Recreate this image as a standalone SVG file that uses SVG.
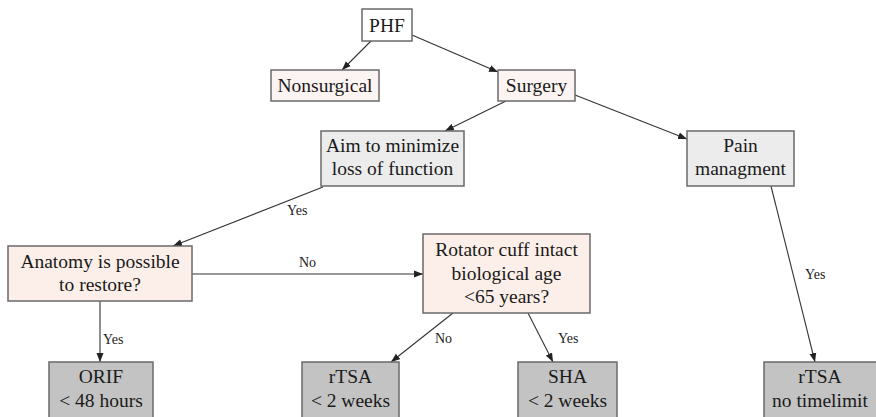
<svg xmlns="http://www.w3.org/2000/svg" width="876" height="417" viewBox="0 0 876 417">
<defs>
<style>
.n rect{stroke:#6a6a6a;stroke-width:1.5}
.n text{font-family:"Liberation Serif","Times New Roman",serif;font-size:19.5px;fill:#1a1a1a;text-anchor:middle}
.w rect{fill:#ffffff}
.p rect{fill:#fcf4f2}
.g rect{fill:#ececec}
.o rect{fill:#fcefe9}
.d rect{fill:#c3c3c3}
.e line{stroke:#333;stroke-width:1.1;marker-end:url(#ah)}
.e text{font-family:"Liberation Serif","Times New Roman",serif;font-size:14px;fill:#222}
</style>
<marker id="ah" markerWidth="9" markerHeight="8" refX="9" refY="4" orient="auto" markerUnits="userSpaceOnUse">
<path d="M0,0.5 L9,4 L0,7.5 Z" fill="#222"/>
</marker>
</defs>
<rect width="876" height="417" fill="#ffffff"/>
<g id="edges" class="e">
<line x1="371" y1="41" x2="342" y2="70"/>
<line x1="412" y1="35" x2="498" y2="72"/>
<line x1="506" y1="101" x2="445" y2="131"/>
<line x1="575" y1="95" x2="687" y2="139"/>
<line x1="323" y1="187" x2="173" y2="246"/>
<text x="287" y="215">Yes</text>
<line x1="192" y1="274" x2="423" y2="274"/>
<text x="299" y="267">No</text>
<line x1="100" y1="301" x2="100" y2="362"/>
<text x="103" y="344">Yes</text>
<line x1="453" y1="313" x2="391" y2="362"/>
<text x="435" y="343">No</text>
<line x1="528" y1="313" x2="553" y2="362"/>
<text x="558" y="343">Yes</text>
<line x1="771" y1="186" x2="815" y2="362"/>
<text x="805" y="279">Yes</text>
</g>
<g id="phf" class="n w"><rect x="362" y="9" width="50" height="32"/><text x="387" y="32">PHF</text></g>
<g id="nonsurgical" class="n p"><rect x="271" y="70" width="108" height="31"/><text x="325" y="92">Nonsurgical</text></g>
<g id="surgery" class="n p"><rect x="498" y="70" width="77" height="31"/><text x="536.5" y="92">Surgery</text></g>
<g id="aim" class="n g"><rect x="321" y="131" width="143" height="55"/><text x="392.5" y="152">Aim to minimize</text><text x="392.5" y="175">loss of function</text></g>
<g id="pain" class="n g"><rect x="687" y="131" width="107" height="55"/><text x="740.5" y="152">Pain</text><text x="740.5" y="175">managment</text></g>
<g id="anatomy" class="n o"><rect x="8" y="246" width="184" height="55"/><text x="100" y="268">Anatomy is possible</text><text x="100" y="291">to restore?</text></g>
<g id="rotator" class="n o"><rect x="423" y="234" width="167" height="79"/><text x="506.5" y="256">Rotator cuff intact</text><text x="506.5" y="279.5">biological age</text><text x="506.5" y="303">&lt;65 years?</text></g>
<g id="orif" class="n d"><rect x="49" y="362" width="104" height="62"/><text x="101" y="383">ORIF</text><text x="101" y="407">&lt; 48 hours</text></g>
<g id="rtsa1" class="n d"><rect x="302" y="362" width="97" height="62"/><text x="350.5" y="383">rTSA</text><text x="350.5" y="407">&lt; 2 weeks</text></g>
<g id="sha" class="n d"><rect x="518" y="362" width="99" height="62"/><text x="567.5" y="383">SHA</text><text x="567.5" y="407">&lt; 2 weeks</text></g>
<g id="rtsa2" class="n d"><rect x="764" y="362" width="116" height="62"/><text x="820" y="383">rTSA</text><text x="820" y="407">no timelimit</text></g>
</svg>
